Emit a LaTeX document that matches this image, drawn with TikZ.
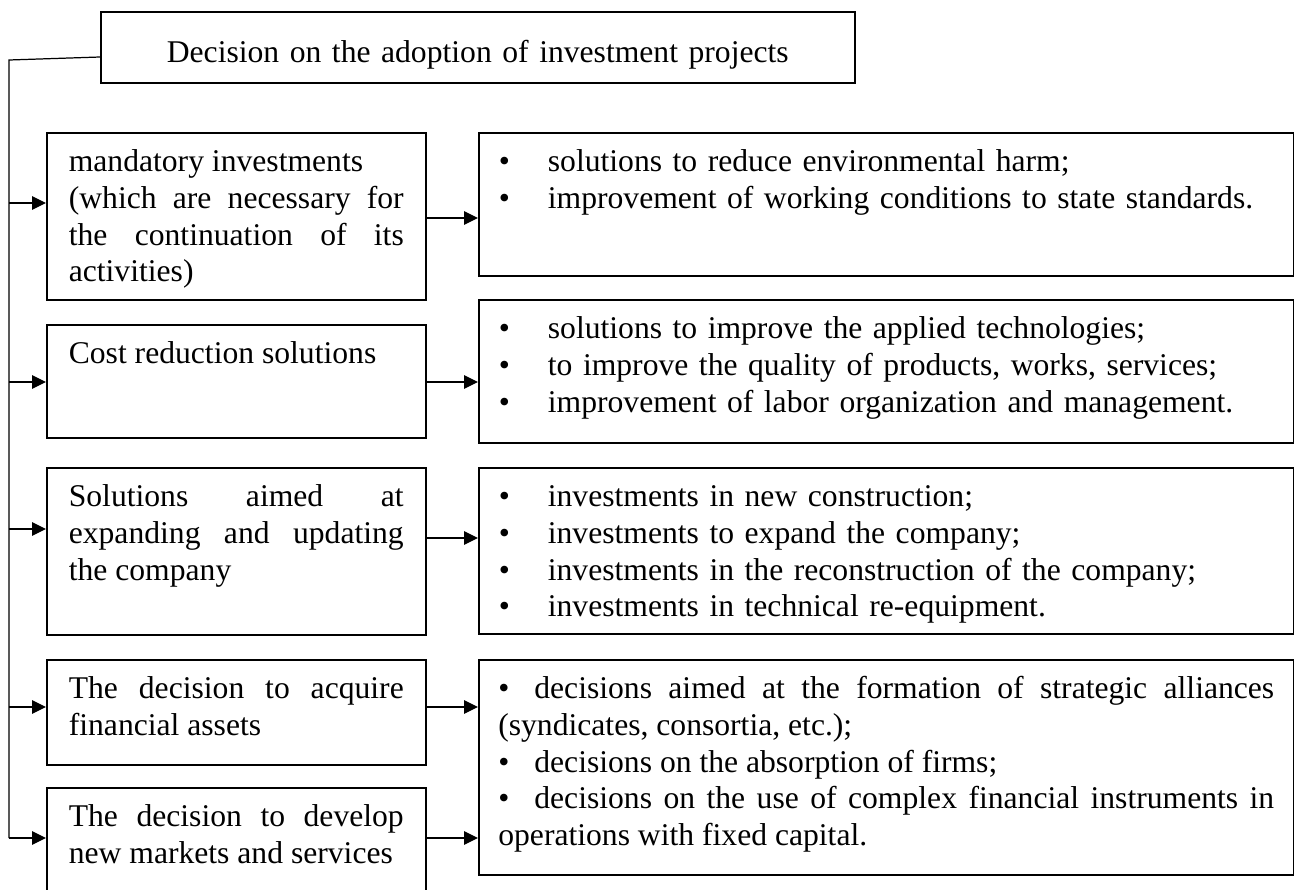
\documentclass[tikz,border=0pt]{standalone}
\usepackage{fontspec}
\setmainfont{Liberation Serif}
\usetikzlibrary{arrows.meta}
\hyphenpenalty=10000
\tolerance=10000
\hbadness=10000
\newcommand{\bul}{\textbullet\hspace{0.76cm}}
\newcommand{\sbul}{\textbullet\hspace{0.5cm}}
\begin{document}
\begin{tikzpicture}[x=0.02cm,y=-0.02cm,
  box/.style={draw, line width=0.95pt, anchor=north west, inner xsep=0.4cm, inner ysep=0.34cm,
    text height=0.44cm, font=\fontsize{18}{20.9}\selectfont},
  lbox/.style={box, inner xsep=0.44cm, text width=6.70cm, align=justify},
  rbox/.style={box, text width=15.5cm, align=left},
  arr/.style={line width=0.7pt, -{Triangle[length=0.28cm,width=0.27cm]}}]
\useasboundingbox (0,0) rectangle (1294,889);
\clip (0,0) rectangle (1294,889);
\node[box, text width=14.28cm, align=center, text height=0.68cm, text depth=0.06cm] (top) at (100,11)
  {Decision on the adoption of investment projects};
\node[lbox, text depth=2.22cm] (L1) at (46,132)
  {mandatory investments\\(which are necessary for\linebreak the continuation of its\linebreak activities)};
\node[lbox, text depth=1.14cm] (L2) at (46,324) {Cost reduction solutions};
\node[lbox, text depth=2.22cm] (L3) at (46,467)
  {Solutions aimed at\linebreak expanding and updating\linebreak the company};
\node[lbox, text depth=0.98cm] (L4) at (46,659)
  {The decision to acquire\linebreak financial assets};
\node[lbox, text depth=1.34cm] (L5) at (46,787)
  {The decision to develop\linebreak new markets and services};
\node[rbox, text depth=1.74cm] (R1) at (478,132)
  {\bul solutions to reduce environmental harm;\\
   \bul improvement of working conditions to state standards.};
\node[rbox, text depth=1.74cm] (R2) at (478,299)
  {\bul solutions to improve the applied technologies;\\
   \bul to improve the quality of products, works, services;\\
   \bul improvement of labor organization and management.};
\node[rbox, text depth=2.2cm] (R3) at (478,467)
  {\bul investments in new construction;\\
   \bul investments to expand the company;\\
   \bul investments in the reconstruction of the company;\\
   \bul investments in technical re-equipment.};
\node[rbox, align=justify, inner xsep=0.39cm, text width=15.52cm, text depth=3.18cm] (R4) at (478,659)
  {\sbul decisions aimed at the formation of strategic alliances\linebreak
   (syndicates, consortia, etc.);\\
   \sbul decisions on the absorption of firms;\\
   \sbul decisions on the use of complex financial instruments in\linebreak
   operations with fixed capital.};
\coordinate (t1) at (9,203);
\coordinate (t2) at (9,382);
\coordinate (t3) at (9,529);
\coordinate (t4) at (9,707);
\coordinate (t5) at (9,838);
\draw[line width=0.7pt] (top.west |- 0,57) -- (9,60) -- (t5);
\foreach \i in {1,...,5}
  \draw[arr] (t\i) -- (t\i -| L\i.west);
\foreach \i/\r/\y in {1/R1/218, 2/R2/382, 3/R3/538, 4/R4/707, 5/R4/838}
  \draw[arr] (L\i.east |- 0,\y) -- (\r.west |- 0,\y);
\end{tikzpicture}
\end{document}
